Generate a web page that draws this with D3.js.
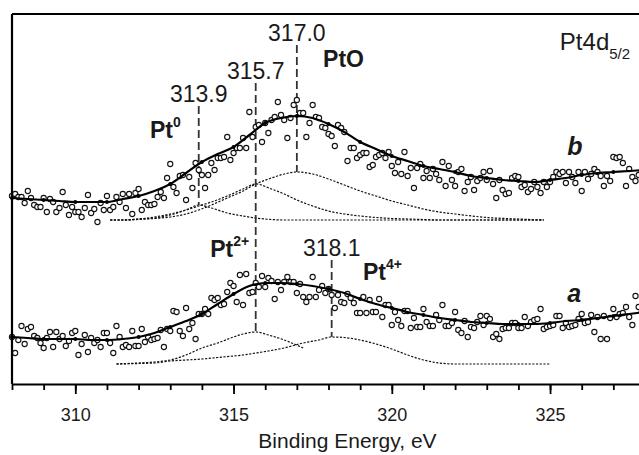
<!DOCTYPE html>
<html>
<head>
<meta charset="utf-8">
<script src="https://cdn.jsdelivr.net/npm/d3@7"></script>
<style>
  body { margin: 0; background: #fff; }
  text { font-family: "Liberation Sans", Arial, sans-serif; fill: #1a1a1a; }
</style>
</head>
<body>
<div id="chart"></div>
<script>
// raw scans, one point every 0.1 eV starting at 308.0 eV (intensity, a.u., curve b is offset)
const scanStart = 308.0, scanStep = 0.1;
const scanB = [
  188,190,187,187,181,193,186,179,177,177,
  186,172,185,182,172,176,192,179,169,177,
  172,172,167,176,189,171,175,162,181,174,
  188,174,177,187,182,190,176,190,170,191,
  195,174,182,179,179,180,187,192,186,206,
  220,197,191,208,209,184,207,196,221,214,
  209,196,209,221,214,226,226,227,247,224,
  231,236,236,246,236,272,247,257,259,242,
  261,251,264,267,282,269,264,246,266,279,
  284,271,271,247,261,279,267,266,257,256,
  250,248,238,259,256,252,223,236,236,226,
  229,231,231,217,219,227,229,231,226,232,
  218,211,222,210,232,208,216,196,216,220,
  206,213,206,215,210,204,222,198,218,204,
  198,212,215,193,202,207,194,203,206,212,
  204,213,200,186,204,194,190,191,206,208,
  207,197,199,192,195,202,197,191,202,197,
  202,207,212,210,212,201,212,207,201,212,
  193,212,205,210,215,212,208,198,208,203,
  227,226,227,221,198,215,207,203,209,212
];
const scanA = [
  47,31,44,58,40,55,57,48,46,41,
  36,46,52,37,52,45,48,38,43,51,
  53,29,40,49,32,46,41,44,37,51,
  51,41,31,58,47,37,39,37,53,38,
  38,55,42,47,44,45,46,54,37,55,
  53,73,72,53,48,76,55,61,45,70,
  70,75,70,86,84,86,79,80,92,101,
  98,82,109,79,110,91,92,101,97,108,
  97,106,103,85,102,94,102,107,102,102,
  91,100,87,82,87,107,87,94,98,91,
  95,89,76,89,82,81,90,86,81,71,
  71,87,71,84,72,72,85,67,79,79,
  59,72,64,58,73,73,56,66,57,57,
  75,62,58,58,69,64,79,58,58,61,
  72,54,51,63,47,57,56,62,68,59,
  68,65,47,50,45,55,56,56,61,61,
  56,56,67,58,62,64,65,75,55,57,
  58,59,68,68,56,61,57,58,59,65,
  70,61,62,69,52,67,45,68,45,66,
  75,67,70,71,77,67,59,88,77,72
];

// fitted envelopes, every 0.5 eV from 308 to 328
const fitStart = 308.0, fitStep = 0.5;
const fitB = [186,185,184,183,182,182,182,185,188,193,200,211,222,230,237,249,261,266,268,266,
              260,252,242,235,228,223,218,215,212,208,206,204,203,202,204,206,209,211,212,213,214];
const fitA = [47,46,45,45,45,44,44,45,47,51,57,63,70,80,90,98,101,101,100,98,
              95,91,85,80,76,72,69,66,64,62,61,60,60,60,61,63,64,66,68,70,72];

// deconvoluted components
const compEB = [311.1,311.5,312,312.5,313,313.5,313.9,314.3,314.8,315.3,315.7,316.2,316.6,317.0,
                317.5,318,318.5,319,319.5,320,320.5,321,321.5,322,323,324,324.8];
const pt0B = [164,164,165,166,169,174,179,176,171,168,166,164.5,164,164,164,164,164,164,164,164,164,164,164,164,164,164,164];
const pt2B = [164,164,165,167,170,174,178,182,188,195,200,195,190,184,178,173,170,168,166.5,165.5,165,164.5,164,164,164,164,164];
const ptOB = [164,164,164.5,165.5,167,170,174,179,186,193,200,206,210,212,210,205,199,193,188,183,179,175,172,170,166.5,165,164];
const compEA = [311.3,312,312.5,313,313.5,314,314.5,315,315.3,315.7,316.1,316.6,317.2,317.7,318.1,
                318.5,319,319.5,320,320.5,321,321.5,322,323,324,325];
const pt2A = [20,21,22,24,29,36,41,47,50,52,49,44,36];
const pt4A = [20,20.5,21,23,24,25,26.5,28,29,31,33,36,41,44,47,46.5,44,40,35,29,24,21,20,20,20,20];

// peak position markers
const peakE = [313.9, 315.7, 317.0, 318.1];
const peakLabels = ["313.9", "315.7", "317.0", "318.1"];
const markerTop = [278, 301, 339, 124];
const markerBottom = [179, 52, 212, 47];

const majorTicks = [310, 315, 320, 325];
const minorTicks = d3.range(308, 329, 1);

const width = 639, height = 455;

let svg = d3.select("#chart").append("svg")
  .attr("width", width).attr("height", height);

let x = d3.scaleLinear().domain([308, 328]).range([12, 645]);
let y = d3.scaleLinear().domain([0, 370]).range([384, 14]);

const toPts = (start, step, arr) => arr.map((v, i) => [start + i * step, v]);
const zipPts = (es, arr) => arr.map((v, i) => [es[i], v]);

let smooth = d3.line().x(d => x(d[0])).y(d => y(d[1])).curve(d3.curveMonotoneX);

/* components (dotted) */
const comps = [zipPts(compEB, pt0B), zipPts(compEB, pt2B), zipPts(compEB, ptOB),
               zipPts(compEA, pt2A), zipPts(compEA, pt4A)];
svg.append("g").selectAll("path").data(comps).join("path")
  .attr("d", smooth)
  .attr("fill", "none")
  .attr("stroke", "#111")
  .attr("stroke-width", 1.2)
  .attr("stroke-dasharray", "2.2,1.5");

/* peak markers */
svg.append("g").selectAll("line").data(peakE).join("line")
  .attr("x1", d => x(d)).attr("x2", d => x(d))
  .attr("y1", (d, i) => y(markerTop[i]))
  .attr("y2", (d, i) => y(markerBottom[i]))
  .attr("stroke", "#333")
  .attr("stroke-width", 1.8)
  .attr("stroke-dasharray", "8,4");

svg.append("g").selectAll("text").data(peakE).join("text")
  .attr("x", d => x(d))
  .attr("y", (d, i) => y(markerTop[i]) - 4)
  .attr("text-anchor", "middle")
  .attr("font-size", 23)
  .text((d, i) => peakLabels[i]);

/* raw data points */
const scans = [toPts(scanStart, scanStep, scanB), toPts(scanStart, scanStep, scanA)];
scans.forEach(s => {
  svg.append("g").selectAll("circle").data(s).join("circle")
    .attr("cx", d => x(d[0]))
    .attr("cy", d => y(d[1]))
    .attr("r", 2.6)
    .attr("fill", "#fff")
    .attr("stroke", "#111")
    .attr("stroke-width", 1.1);
});

/* fitted envelopes */
const fits = [toPts(fitStart, fitStep, fitB), toPts(fitStart, fitStep, fitA)];
fits.forEach(f => {
  svg.append("path").datum(f)
    .attr("d", smooth)
    .attr("fill", "none")
    .attr("stroke", "#000")
    .attr("stroke-width", 2.2);
  svg.append("g").selectAll("circle").data(f.filter((d, i) => i % 2 == 0)).join("circle")
    .attr("cx", d => x(d[0])).attr("cy", d => y(d[1]))
    .attr("r", 2).attr("fill", "#000");
});

/* frame + axis */
svg.append("line")
  .attr("x1", x(308)).attr("x2", x(308))
  .attr("y1", y.range()[1]).attr("y2", y.range()[0])
  .attr("stroke", "#000").attr("stroke-width", 2.2);
svg.append("line")
  .attr("x1", x(308)).attr("x2", x(328))
  .attr("y1", y.range()[1]).attr("y2", y.range()[1])
  .attr("stroke", "#000").attr("stroke-width", 2.2);

let minorAxis = svg.append("g")
  .attr("transform", `translate(0,${y(0)})`)
  .call(d3.axisBottom(x).tickValues(minorTicks).tickSize(6).tickSizeOuter(0).tickFormat(""));
minorAxis.select(".domain").attr("stroke-width", 2.2);
minorAxis.selectAll(".tick line").attr("stroke-width", 1.8);

let majorAxis = svg.append("g")
  .attr("transform", `translate(0,${y(0)})`)
  .call(d3.axisBottom(x).tickValues(majorTicks).tickSize(10).tickPadding(14).tickFormat(d3.format("d")));
majorAxis.select(".domain").remove();
majorAxis.selectAll(".tick line").attr("stroke-width", 1.8);
majorAxis.selectAll(".tick text")
  .attr("font-size", 18)
  .attr("font-family", "'Liberation Sans', Arial, sans-serif")
  .attr("fill", "#1a1a1a");

svg.append("text")
  .attr("x", x(318.6))
  .attr("y", 448)
  .attr("text-anchor", "middle")
  .attr("font-size", 21)
  .text("Binding Energy, eV");

/* species labels */
function species(e, v, main, sup) {
  let t = svg.append("text")
    .attr("x", x(e)).attr("y", y(v))
    .attr("font-size", 23).attr("font-weight", "bold");
  t.append("tspan").text(main);
  if (sup) t.append("tspan").attr("dy", -11).attr("font-size", 14).text(sup);
}
species(312.36, 246, "Pt", "0");
species(317.83, 317, "PtO");
species(314.26, 127, "Pt", "2+");
species(319.09, 104, "Pt", "4+");

let title = svg.append("text")
  .attr("x", x(325.31)).attr("y", y(334))
  .attr("font-size", 24);
title.append("tspan").text("Pt4d");
title.append("tspan").attr("dy", 9).attr("font-size", 15).text("5/2");

svg.append("text").attr("x", x(325.54)).attr("y", y(229))
  .attr("font-size", 25).attr("font-weight", "bold").attr("font-style", "italic").text("b");
svg.append("text").attr("x", x(325.54)).attr("y", y(82))
  .attr("font-size", 25).attr("font-weight", "bold").attr("font-style", "italic").text("a");
</script>
</body>
</html>
